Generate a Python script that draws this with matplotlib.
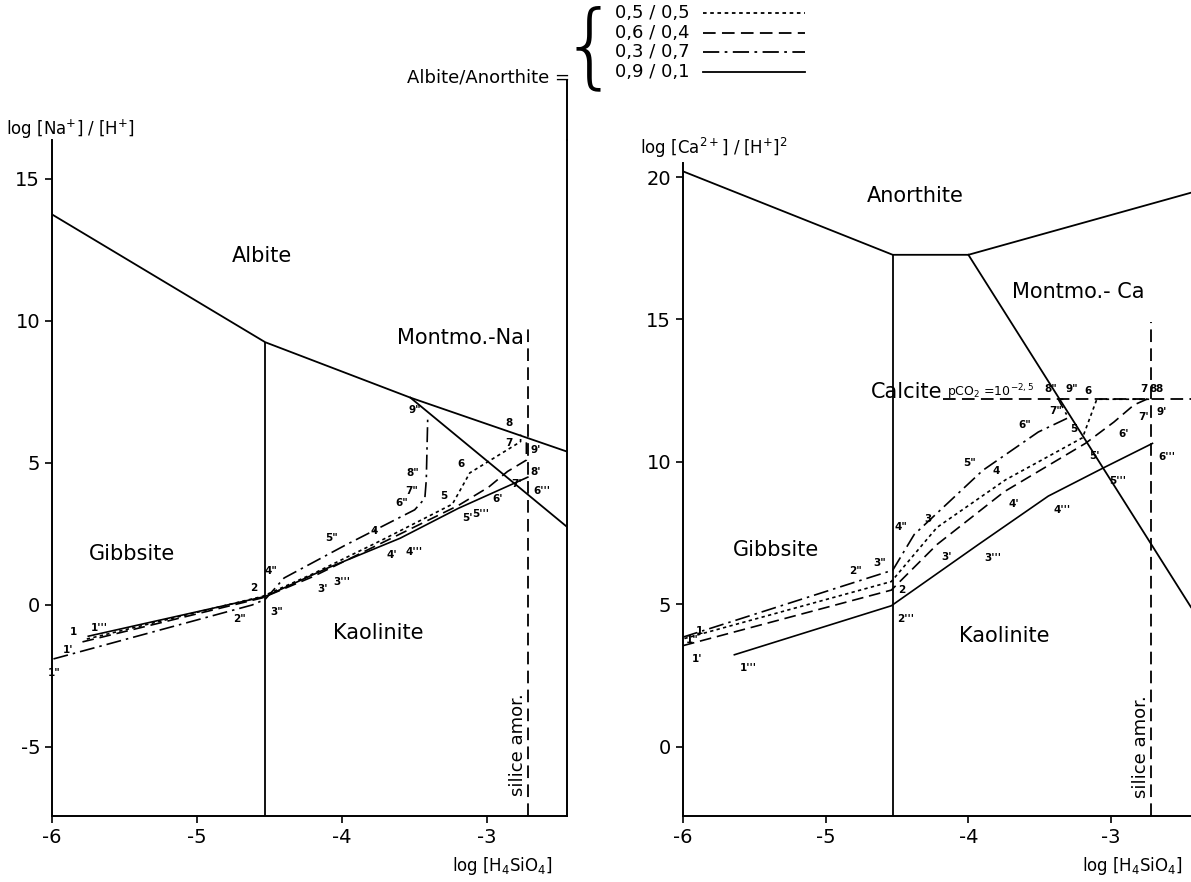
import matplotlib.pyplot as plt
from matplotlib.lines import Line2D

plt.rcParams['font.family'] = ['DejaVu Sans']

# ---- Na diagram (left) ----
na_albite_x = [-6.0, -4.53, -3.53, -2.45]
na_albite_y = [13.75, 9.25, 7.3, 5.4]
na_kaol_mont_x = [-3.53, -2.45]
na_kaol_mont_y = [7.3, 2.75]
na_gibbs_kaol_x = -4.53
silica_x = -2.72

# reaction paths, one per albite/anorthite ratio ('' = point not labelled)
na_x_55 = [-5.76, -4.55, -4.2, -3.72, -3.24, -3.12, -2.77, -2.77]
na_y_55 = [-1.2, 0.3, 1.1, 2.3, 3.55, 4.65, 5.75, 6.0]
na_lab_55 = ['1', '2', '', '4', '5', '6', '7', '8']

na_x_64 = [-5.79, -4.55, -4.2, -3.72, -3.2, -2.99, -2.86, -2.73, -2.73]
na_y_64 = [-1.3, 0.25, 1.0, 2.2, 3.5, 4.15, 4.7, 5.1, 5.9]
na_lab_64 = ["1'", "", "3'", "4'", "5'", "6'", "7'", "8'", "9'"]

na_x_37 = [-5.99, -4.62, -4.53, -4.4, -3.98, -3.5, -3.43, -3.42, -3.41]
na_y_37 = [-1.9, 0.0, 0.2, 0.95, 2.1, 3.35, 3.75, 4.4, 6.6]
na_lab_37 = ['1"', '2"', '3"', '4"', '5"', '6"', '7"', '8"', '9"']

na_x_91 = [-5.75, -4.53, -4.1, -3.6, -3.2, -2.72]
na_y_91 = [-1.1, 0.3, 1.3, 2.35, 3.4, 4.5]
na_lab_91 = ["1'''", "", "3'''", "4'''", "5'''", "6'''"]

# ---- Ca diagram (right) ----
ca_anor_x = [-6.0, -4.53, -4.0, -2.44]
ca_anor_y = [20.2, 17.27, 17.27, 19.45]
ca_kaol_mont_x = [-4.0, -2.44]
ca_kaol_mont_y = [17.27, 4.9]
calcite_y = 12.2
calcite_x0 = -4.18

ca_x_55 = [-5.99, -4.54, -4.22, -3.74, -3.2, -3.1, -2.76, -2.71]
ca_y_55 = [3.8, 5.8, 7.7, 9.37, 10.85, 12.2, 12.2, 12.2]
ca_lab_55 = ['1', '2', '3', '4', '5', '6', '7', '8']

ca_x_64 = [-6.0, -4.54, -4.22, -3.75, -3.18, -2.98, -2.84, -2.75, -2.71]
ca_y_64 = [3.55, 5.5, 7.1, 8.95, 10.65, 11.4, 12.0, 12.2, 12.2]
ca_lab_64 = ["1'", "", "3'", "4'", "5'", "6'", "7'", "8", "9'"]

ca_x_37 = [-6.0, -4.7, -4.53, -4.38, -3.9, -3.51, -3.3, -3.37, -3.33]
ca_y_37 = [3.85, 5.93, 6.2, 7.45, 9.7, 11.05, 11.55, 12.2, 12.2]
ca_lab_37 = ['1"', '2"', '3"', '4"', '5"', '6"', '7"', '8"', '9"']

ca_x_91 = [-5.64, -4.54, -3.93, -3.44, -3.05, -2.71]
ca_y_91 = [3.23, 4.95, 7.1, 8.8, 9.8, 10.65]
ca_lab_91 = ["1'''", "2'''", "3'''", "4'''", "5'''", "6'''"]

ratios = ['0,5 / 0,5', '0,6 / 0,4', '0,3 / 0,7', '0,9 / 0,1']
styles = [(0, (2, 2)), (0, (7, 3.5)), (0, (9, 3, 1.5, 3)), '-']
lab_off = [(-9, 4), (3, -11), (-14, 3), (4, -12)]
na_nudge = {'3"': (4, -11), '2"': (-14, -12), '1"': (-4, -12),
            "5'''": (10, -6), '7': (-11, -3), '8': (-11, 6),
            "1'''": (2, 4), '1': (-12, 3), "1'": (-14, -8)}
ca_nudge = {'1': (8, 3), "1'": (6, -12), '1"': (2, -4), '2': (5, -8),
            '7': (-4, 5), '8': (2, 5), '8"': (-10, 5), '9"': (1, 5)}

fig = plt.figure(figsize=(11.91, 8.82), dpi=100)
axL = fig.add_axes([52 / 1191, 66 / 882, 515 / 1191, 676 / 882])
axR = fig.add_axes([683 / 1191, 66 / 882, 508 / 1191, 676 / 882])

lw = 1.3
for ax in (axL, axR):
    ax.spines['top'].set_visible(False)
    for s in ax.spines.values():
        s.set_linewidth(1.4)
    ax.set_xlim(-6, -2.44 if ax is axR else -2.45)
    ax.set_xticks([-6, -5, -4, -3])
    ax.set_xticklabels(['-6', '-5', '-4', '-3'])
    ax.tick_params(labelsize=14, length=5, width=1.2, direction='out')

axR.spines['right'].set_visible(False)

# left
axL.set_ylim(-7.43, 16.37)
axL.set_yticks([-5, 0, 5, 10, 15])
axL.set_yticklabels(['-5', '0', '5', '10', '15'])
axL.plot(na_albite_x, na_albite_y, color='k', lw=lw)
axL.plot(na_kaol_mont_x, na_kaol_mont_y, color='k', lw=lw)
axL.vlines(na_gibbs_kaol_x, -7.43, 9.25, color='k', lw=lw)
axL.plot([silica_x, silica_x], [-7.43, 9.8], color='k', lw=lw, ls=(0, (7, 3.5)))
axL.add_line(Line2D([1, 1], [1, 1.089], transform=axL.transAxes, color='k',
                    lw=1.4, clip_on=False))

na_series = [(na_x_55, na_y_55, na_lab_55), (na_x_64, na_y_64, na_lab_64),
             (na_x_37, na_y_37, na_lab_37), (na_x_91, na_y_91, na_lab_91)]
for (xs, ys, labs), st, off in zip(na_series, styles, lab_off):
    axL.plot(xs, ys, color='k', lw=1.2, ls=st)
    for x, y, t in zip(xs, ys, labs):
        if t:
            axL.annotate(t, (x, y), xytext=na_nudge.get(t, off),
                         textcoords='offset points', fontsize=7.5,
                         fontweight='bold')

axL.text(-4.55, 12.3, 'Albite', fontsize=15, ha='center', va='center')
axL.text(silica_x - 0.03, 9.4, 'Montmo.-Na', fontsize=15, ha='right', va='center')
axL.text(-5.45, 1.8, 'Gibbsite', fontsize=15, ha='center', va='center')
axL.text(-3.75, -1.0, 'Kaolinite', fontsize=15, ha='center', va='center')
axL.text(silica_x - 0.07, -4.9, 'silice amor.', fontsize=13, rotation=90,
         ha='center', va='center')
axL.text(-6.32, 16.75, 'log [Na$^{+}$] / [H$^{+}$]', fontsize=12, ha='left', va='center')
axL.text(-2.55, -9.2, 'log [H$_4$SiO$_4$]', fontsize=12, ha='right', va='center')

# right
axR.set_ylim(-2.43, 21.3)
axR.spines['left'].set_bounds(-2.43, 20.5)
axR.set_yticks([0, 5, 10, 15, 20])
axR.set_yticklabels(['0', '5', '10', '15', '20'])
axR.plot(ca_anor_x, ca_anor_y, color='k', lw=lw)
axR.plot(ca_kaol_mont_x, ca_kaol_mont_y, color='k', lw=lw)
axR.vlines(na_gibbs_kaol_x, -2.43, 17.27, color='k', lw=lw)
axR.plot([silica_x, silica_x], [-2.43, 14.9], color='k', lw=lw, ls=(0, (7, 3.5)))
axR.plot([calcite_x0, -2.44], [calcite_y, calcite_y], color='k', lw=lw, ls=(0, (7, 3.5)))

ca_series = [(ca_x_55, ca_y_55, ca_lab_55), (ca_x_64, ca_y_64, ca_lab_64),
             (ca_x_37, ca_y_37, ca_lab_37), (ca_x_91, ca_y_91, ca_lab_91)]
for (xs, ys, labs), st, off in zip(ca_series, styles, lab_off):
    axR.plot(xs, ys, color='k', lw=1.2, ls=st)
    for x, y, t in zip(xs, ys, labs):
        if t:
            axR.annotate(t, (x, y), xytext=ca_nudge.get(t, off),
                         textcoords='offset points', fontsize=7.5,
                         fontweight='bold')

axR.text(-4.37, 19.35, 'Anorthite', fontsize=15, ha='center', va='center')
axR.text(-3.23, 15.95, 'Montmo.- Ca', fontsize=15, ha='center', va='center')
axR.text(-5.35, 6.9, 'Gibbsite', fontsize=15, ha='center', va='center')
axR.text(-3.75, 3.9, 'Kaolinite', fontsize=15, ha='center', va='center')
axR.text(-4.18, 12.45, 'Calcite', fontsize=15, ha='right', va='center')
axR.text(-4.15, 12.45, 'pCO$_2$ =10$^{-2,5}$', fontsize=9, ha='left', va='center')
axR.text(silica_x - 0.07, 0.0, 'silice amor.', fontsize=13, rotation=90,
         ha='center', va='center')
axR.text(-6.3, 20.6, 'log [Ca$^{2+}$] / [H$^{+}$]$^{2}$', fontsize=12, ha='left', va='bottom')
axR.text(-2.5, -4.2, 'log [H$_4$SiO$_4$]', fontsize=12, ha='right', va='center')

# ratio key
fig.text(570 / 1191, 1 - 78 / 882, 'Albite/Anorthite =', fontsize=13,
         ha='right', va='center')
fig.text(590 / 1191, 1 - 50 / 882, '{', fontsize=66, ha='center', va='center',
         fontweight='light')
key_y = [13, 33, 52, 72]
for r, st, ky in zip(ratios, styles, key_y):
    yf = 1 - ky / 882
    fig.text(615 / 1191, yf, r, fontsize=13, ha='left', va='center')
    fig.add_artist(Line2D([703 / 1191, 805 / 1191], [yf, yf], color='k',
                          lw=1.3, ls=st))

fig.savefig('out.png', dpi=100)
